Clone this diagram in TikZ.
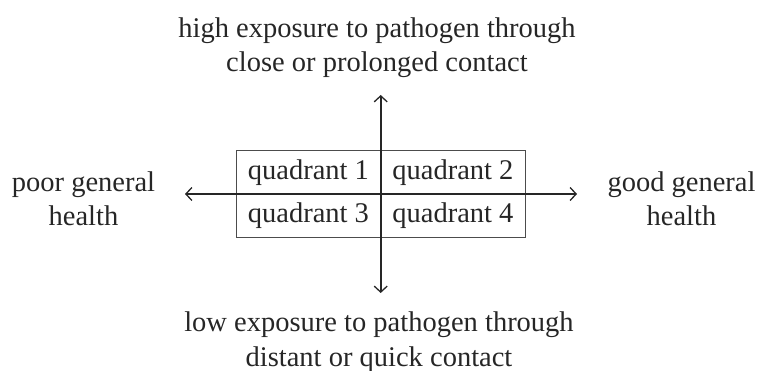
\documentclass[tikz,border=0pt]{standalone}
\usepackage{fontspec}
\setmainfont{Liberation Serif}
\usetikzlibrary{arrows.meta}
\begin{document}
\begin{tikzpicture}[x=1pt,y=-1pt,
  lbl/.style={font=\fontsize{28.5}{34.5}\selectfont, align=center, inner sep=0pt, text=black!85},
  cell/.style={draw=black!70, line width=1pt, minimum width=144.5pt, minimum height=43.5pt, inner sep=0pt, font=\fontsize{28.5}{35}\selectfont, text=black!85},
  axis/.style={line width=1.8pt, draw=black!85, {Straight Barb[length=6pt,width=13pt,line width=1.3pt]}-{Straight Barb[length=6pt,width=13pt,line width=1.3pt]}}]
\useasboundingbox (0,0) rectangle (757,371);
\node[cell] (q1) at (308.4,172.3) {\raisebox{-2pt}{quadrant 1}};
\node[cell] (q2) at (452.9,172.3) {\raisebox{-2pt}{quadrant 2}};
\node[cell] (q3) at (308.4,215.8) {\raisebox{-2pt}{quadrant 3}};
\node[cell] (q4) at (452.9,215.8) {\raisebox{-2pt}{quadrant 4}};
\coordinate (top) at (380.7,95);
\coordinate (bot) at (380.7,293);
\coordinate (lft) at (185,194);
\coordinate (rgt) at (577,194);
\draw[axis] (top) -- (bot);
\draw[axis] (lft) -- (rgt);
\node[lbl] (ttext) at (377,47.5) {high exposure to pathogen through\\close or prolonged contact};
\node[lbl] (btext) at (379,342) {low exposure to pathogen through\\distant or quick contact};
\node[lbl] (ltext) at (83.5,199) {poor general\\health};
\node[lbl] (rtext) at (681.5,199) {good general\\health};
\end{tikzpicture}
\end{document}
